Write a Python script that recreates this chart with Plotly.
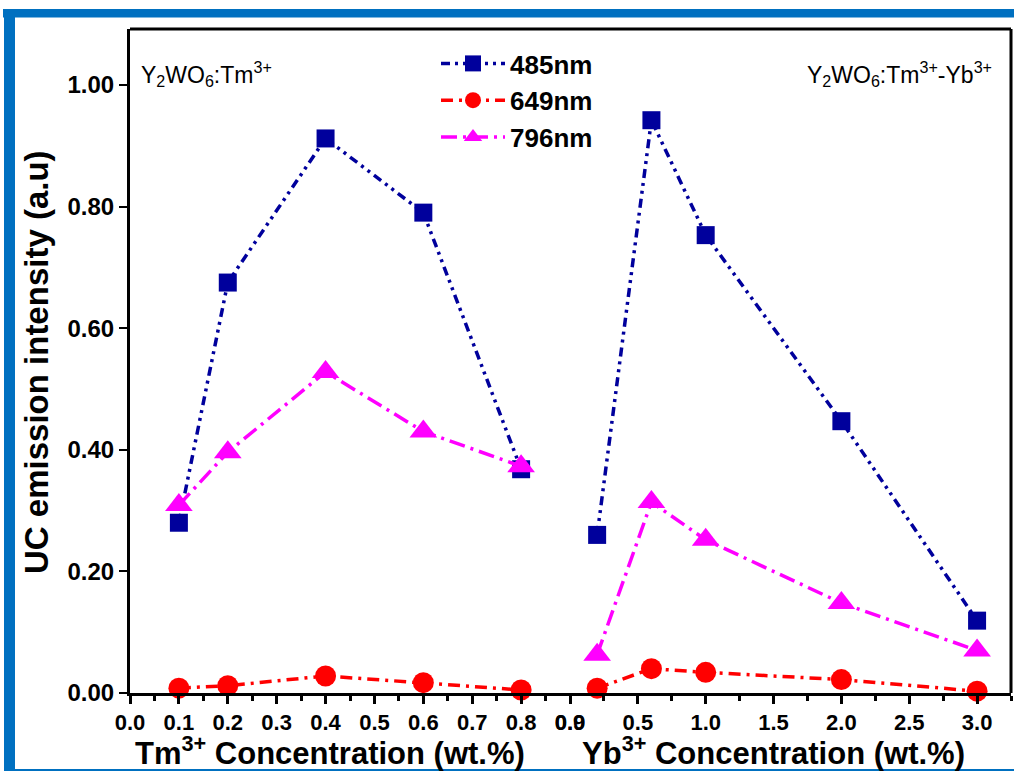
import plotly.graph_objects as go

# ---- data ----
tm_conc = [0.1, 0.2, 0.4, 0.6, 0.8]
yb_conc = [0.2, 0.6, 1.0, 2.0, 3.0]
tm_485 = [0.280, 0.675, 0.912, 0.790, 0.368]
tm_649 = [0.008, 0.012, 0.028, 0.017, 0.005]
tm_796 = [0.309, 0.396, 0.528, 0.430, 0.373]
yb_485 = [0.260, 0.942, 0.753, 0.447, 0.119]
yb_649 = [0.008, 0.040, 0.034, 0.022, 0.003]
yb_796 = [0.063, 0.314, 0.252, 0.148, 0.070]
series_names = ["485nm", "649nm", "796nm"]
tm_ticks = [0.0, 0.1, 0.2, 0.3, 0.4, 0.5, 0.6, 0.7, 0.8, 0.9]
yb_ticks = [0.0, 0.5, 1.0, 1.5, 2.0, 2.5, 3.0]
y_ticks = [0.0, 0.2, 0.4, 0.6, 0.8, 1.0]

FONT = "Liberation Sans, Arial, sans-serif"
BLUE = "#00009C"
RED = "#FF0000"
MAG = "#FF00FF"
FRAME = "#0070C0"

styles = [
    dict(color=BLUE, dash="9px,5px,3px,5px,3px,5px", symbol="square", size=18),
    dict(color=RED, dash="12px,6px,3px,6px", symbol="circle", size=21),
    dict(color=MAG, dash="16px,6px,3px,6px", symbol="triangle-up", size=24),
]

fig = go.Figure()
for name, st, yv in zip(series_names, styles, [tm_485, tm_649, tm_796]):
    fig.add_trace(go.Scatter(
        x=tm_conc, y=yv, name=name, mode="lines+markers", xaxis="x", yaxis="y",
        line=dict(color=st["color"], width=3.5, dash=st["dash"]),
        marker=dict(color=st["color"], symbol=st["symbol"], size=st["size"]),
        cliponaxis=False, showlegend=True))
for name, st, yv in zip(series_names, styles, [yb_485, yb_649, yb_796]):
    fig.add_trace(go.Scatter(
        x=yb_conc, y=yv, name=name, mode="lines+markers", xaxis="x2", yaxis="y",
        line=dict(color=st["color"], width=3.5, dash=st["dash"]),
        marker=dict(color=st["color"], symbol=st["symbol"], size=st["size"]),
        cliponaxis=False, showlegend=False))

W, H = 1014, 774
L, R, T, B = 130, 3, 29, 81
pw = W - L - R
ph = H - T - B
split = (570 - L) / pw

def px(xp):
    return (xp - L) / pw

def py(yp):
    return (H - B - yp) / ph

xtickfont = dict(family=FONT, size=22, color="black", weight="bold")
ytickfont = dict(family=FONT, size=24, color="black", weight="bold")
common_x = dict(showline=True, linecolor="black", linewidth=3, ticks="outside",
                ticklen=8, tickwidth=3, tickcolor="black", showgrid=False,
                zeroline=False, tickfont=xtickfont, anchor="y", automargin=False)

fig.update_layout(
    width=W, height=H, autosize=False,
    margin=dict(l=L, r=R, t=T, b=B, autoexpand=False),
    paper_bgcolor="white", plot_bgcolor="white",
    font=dict(family=FONT, color="black"),
    xaxis=dict(domain=[0, split], range=[0, 0.9], tickvals=tm_ticks,
               tickformat=".1f",
               minor=dict(dtick=0.05, ticks="outside", ticklen=5, tickwidth=3,
                          tickcolor="black", showgrid=False),
               **common_x),
    xaxis2=dict(domain=[split, 1], range=[0, 3.25], tickvals=yb_ticks,
                tickformat=".1f",
                minor=dict(dtick=0.25, ticks="outside", ticklen=5, tickwidth=3,
                           tickcolor="black", showgrid=False),
                **common_x),
    yaxis=dict(range=[0, 1.092], tickvals=y_ticks, tickformat=".2f",
               showline=True, linecolor="black", linewidth=3, ticks="outside",
               ticklen=8, tickwidth=2, tickcolor="black", showgrid=False,
               zeroline=False, tickfont=ytickfont, automargin=False),
    legend=dict(x=px(436), y=py(40), xanchor="left", yanchor="top",
                bgcolor="rgba(0,0,0,0)", borderwidth=0, itemwidth=64,
                font=dict(family=FONT, size=26, color="black", weight="bold")),
)

# plot box (top and right borders)
fig.add_shape(type="line", xref="paper", yref="paper", x0=0, x1=1, y0=1, y1=1,
              line=dict(color="black", width=3))
fig.add_shape(type="line", xref="paper", yref="paper", x0=1, x1=1, y0=0, y1=1,
              line=dict(color="black", width=3))

# blue page frame
fig.add_shape(type="rect", xref="paper", yref="paper", x0=px(3), x1=px(1014),
              y0=py(17.5), y1=py(9), fillcolor=FRAME, line=dict(width=0), layer="below")
fig.add_shape(type="rect", xref="paper", yref="paper", x0=px(4), x1=px(15),
              y0=py(771), y1=py(9), fillcolor=FRAME, line=dict(width=0), layer="below")
fig.add_shape(type="line", xref="paper", yref="paper", x0=px(4), x1=px(1014),
              y0=py(770), y1=py(770), line=dict(color=FRAME, width=2))

ann_font = dict(family=FONT, size=23, color="black")
fig.add_annotation(xref="paper", yref="paper", x=px(139), y=py(74),
                   xanchor="left", yanchor="middle", showarrow=False,
                   text="Y<sub>2</sub>WO<sub>6</sub>:Tm<sup>3+</sup>", font=ann_font)
fig.add_annotation(xref="paper", yref="paper", x=px(994), y=py(74),
                   xanchor="right", yanchor="middle", showarrow=False,
                   text="Y<sub>2</sub>WO<sub>6</sub>:Tm<sup>3+</sup>-Yb<sup>3+</sup>",
                   font=ann_font)

title_font_y = dict(family=FONT, size=33, color="black", weight="bold")
title_font_x = dict(family=FONT, size=31, color="black", weight="bold")
fig.add_annotation(xref="paper", yref="paper", x=px(36), y=py(362),
                   xanchor="center", yanchor="middle", showarrow=False, textangle=-90,
                   text="UC emission intensity (a.u)", font=title_font_y)
fig.add_annotation(xref="paper", yref="paper", x=px(330), y=py(751),
                   xanchor="center", yanchor="middle", showarrow=False,
                   text="Tm<sup>3+</sup> Concentration (wt.%)", font=title_font_x)
fig.add_annotation(xref="paper", yref="paper", x=px(773), y=py(751),
                   xanchor="center", yanchor="middle", showarrow=False,
                   text="Yb<sup>3+</sup> Concentration (wt.%)", font=title_font_x)

fig.write_html("out.html", config={"responsive": False})
